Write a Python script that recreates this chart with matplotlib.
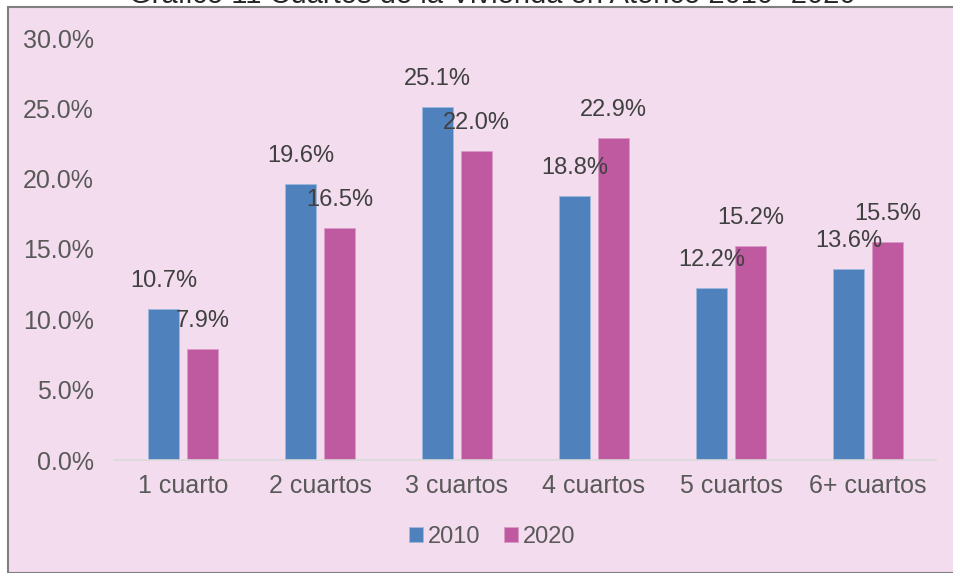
import numpy as np
import matplotlib
matplotlib.use("Agg")
import matplotlib.pyplot as plt
from matplotlib.patches import Rectangle

categorias = ["1 cuarto", "2 cuartos", "3 cuartos", "4 cuartos", "5 cuartos", "6+ cuartos"]
valores_2010 = [10.7, 19.6, 25.1, 18.8, 12.2, 13.6]
valores_2020 = [7.9, 16.5, 22.0, 22.9, 15.2, 15.5]
titulo = "Gráfico 11 Cuartos de la Vivienda en Atenco 2010- 2020"

plt.rcParams['font.family'] = ['Liberation Sans', 'DejaVu Sans']

fondo = '#F2DCEE'
azul = '#4F81BD'
rosa = '#C05AA0'
gris = '#595959'

W, H = 954, 573
fig = plt.figure(figsize=(W / 100, H / 100), dpi=100)
fig.patch.set_facecolor('white')

# recuadro del grafico
fig.patches.append(Rectangle((8 / W, 0.5 / H), 1.2, (H - 7.5) / H, transform=fig.transFigure,
                             facecolor=fondo, edgecolor='#7F7F7F', linewidth=1.5, zorder=-5))

fig.text(492 / W, (H - 3) / H, titulo, ha='center', va='baseline', fontsize=21, color='#262626')

ax = fig.add_axes([114.5 / W, (H - 460) / H, 822 / W, 422 / H])
ax.set_facecolor('none')
ax.set_zorder(2)

x = np.arange(len(categorias))
ancho = 0.226
b1 = ax.bar(x - 0.142, valores_2010, ancho, color=azul, label='2010', edgecolor='#9DB8DA', linewidth=0.6)
b2 = ax.bar(x + 0.142, valores_2020, ancho, color=rosa, label='2020', edgecolor='#DA9AC8', linewidth=0.6)

for barras, vals in [(b1, valores_2010), (b2, valores_2020)]:
    for rect, v in zip(barras, vals):
        ax.annotate(f"{v:.1f}%", (rect.get_x() + rect.get_width() / 2, v),
                    xytext=(0, 28), textcoords='offset pixels', ha='center', va='center',
                    fontsize=17, color='#404040')

ax.set_xlim(-0.5, len(categorias) - 0.5)
ax.set_ylim(0, 30)
ax.set_yticks(np.arange(0, 30.1, 5))
ax.set_yticklabels([f"{t:.1f}%" for t in np.arange(0, 30.1, 5)])
ax.set_xticks(x)
ax.set_xticklabels(categorias)
ax.tick_params(axis='both', length=0, labelsize=18, colors=gris)
ax.tick_params(axis='y', pad=15)
ax.tick_params(axis='x', pad=10)

for lado in ['top', 'right', 'left']:
    ax.spines[lado].set_visible(False)
ax.spines['bottom'].set_color('#D9D9D9')
ax.spines['bottom'].set_linewidth(1.2)

ax.legend(loc='center', bbox_to_anchor=(492 / W, (H - 537) / H), bbox_transform=fig.transFigure,
          ncol=2, frameon=False, fontsize=17, handlelength=0.6, handleheight=0.6,
          handletextpad=0.2, columnspacing=1.0, labelcolor=gris)

fig.savefig("out.png", dpi=100, facecolor=fig.get_facecolor())
